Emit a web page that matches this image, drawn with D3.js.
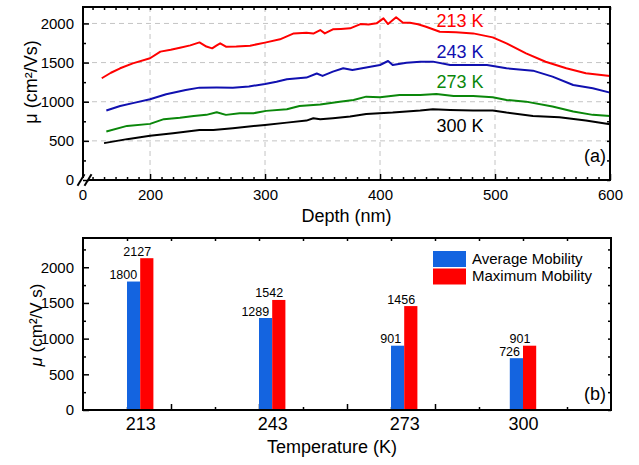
<!DOCTYPE html>
<html>
<head>
<meta charset="utf-8">
<script src="https://cdn.jsdelivr.net/npm/d3@7"></script>
<style>
  body { margin: 0; background: #fff; }
  svg text { font-family: "Liberation Sans", Arial, sans-serif; fill: #000; }
</style>
</head>
<body>
<svg id="chart" width="639" height="465"></svg>
<script>
// ---- panel (a): mobility vs depth ----
const depth213 = [158,166,174,185,200,209,218,226,235,243,249,254,258,261,266,275,287,300,313,325,336,342,348,352,359,366,374,383,390,397,403,407,414,420,426,433,440,452,466,481,498,510,527,544,562,579,600];
const mu213    = [1300,1370,1427,1490,1555,1640,1665,1690,1720,1758,1705,1682,1720,1746,1703,1705,1716,1755,1797,1873,1882,1870,1916,1873,1925,1930,1937,1992,1985,2001,2065,1992,2078,2009,2009,1990,1958,1894,1886,1873,1822,1746,1618,1511,1427,1363,1329];
const depth243 = [162,174,186,200,214,231,243,258,272,286,300,310,319,336,345,350,359,368,376,388,400,407,411,423,435,446,461,475,493,510,533,550,568,585,600];
const mu243    = [887,946,985,1032,1096,1150,1180,1182,1180,1195,1227,1255,1287,1308,1360,1330,1384,1427,1405,1437,1469,1520,1469,1499,1512,1512,1469,1469,1469,1427,1397,1321,1214,1172,1116];
const depth273 = [162,180,200,212,226,238,249,258,266,278,290,301,319,330,348,365,377,388,400,417,435,449,464,481,498,510,527,550,568,585,600];
const mu273    = [619,691,717,777,794,819,832,866,832,853,853,883,904,946,965,1001,1023,1065,1057,1087,1087,1099,1074,1074,1057,1023,1001,938,874,832,819];
const depth300 = [160,180,200,220,243,255,272,300,319,336,342,348,359,374,388,411,435,446,461,481,498,510,533,556,579,600];
const mu300    = [471,522,564,598,640,640,662,704,733,759,789,776,789,810,844,861,887,904,895,887,887,861,819,802,759,713];

const seriesA = [
  {label: "213 K", color: "#ff0000", depth: depth213, mu: mu213, ly: 27},
  {label: "243 K", color: "#1010b0", depth: depth243, mu: mu243, ly: 58},
  {label: "273 K", color: "#0a870a", depth: depth273, mu: mu273, ly: 88},
  {label: "300 K", color: "#000000", depth: depth300, mu: mu300, ly: 131.5}
];

// ---- panel (b): average / maximum mobility ----
const temps   = [213, 243, 273, 300];
const avgMob  = [1800, 1289, 901, 726];
const maxMob  = [2127, 1542, 1456, 901];

const svg = d3.select("#chart");
const fmt = d3.format("d");

// helpers
const styleTicks = g => {
  g.select(".domain").remove();
  g.selectAll("line").attr("stroke", "#000").attr("stroke-width", 1.5);
};
const range = (a, b, s) => d3.range(a, b + 0.001, s);

// ================= panel (a) =================
const A = {l: 83, r: 610, t: 7, b: 180};
const xA = d3.scaleLinear().domain([141.7, 600]).range([A.l, A.r]);
const yA = d3.scaleLinear().domain([0, 2210]).range([A.b, A.t]);

const gA = svg.append("g");

gA.selectAll(".gx").data([200, 300, 400, 500]).join("line")
  .attr("x1", d => xA(d)).attr("x2", d => xA(d))
  .attr("y1", A.t).attr("y2", A.b)
  .attr("stroke", "#c4c4c4").attr("stroke-dasharray", "5,4");
gA.selectAll(".gy").data([500, 1000, 1500, 2000]).join("line")
  .attr("x1", A.l).attr("x2", A.r)
  .attr("y1", d => yA(d)).attr("y2", d => yA(d))
  .attr("stroke", "#c4c4c4").attr("stroke-dasharray", "5,4");

const lineA = d3.line().x(d => xA(d[0])).y(d => yA(d[1]));
seriesA.forEach(s => {
  gA.append("path")
    .attr("d", lineA(d3.zip(s.depth, s.mu)))
    .attr("fill", "none").attr("stroke", s.color)
    .attr("stroke-width", 2).attr("stroke-linejoin", "round");
  gA.append("text")
    .attr("x", 460).attr("y", s.ly)
    .attr("text-anchor", "middle").style("font-size", "18px")
    .style("fill", s.color).text(s.label);
});

const majA = [200, 300, 400, 500, 600];
const minA = range(150, 600, 10).filter(v => v % 100 !== 0);

gA.append("g").attr("transform", `translate(0,${A.b})`)
  .call(d3.axisBottom(xA).tickValues(majA).tickFormat(fmt).tickSizeInner(-6).tickSizeOuter(0).tickPadding(9))
  .call(styleTicks)
  .selectAll("text").style("font-size", "15px");
gA.append("g").attr("transform", `translate(0,${A.b})`)
  .call(d3.axisBottom(xA).tickValues(minA).tickSizeInner(-3).tickSizeOuter(0).tickFormat(""))
  .call(styleTicks);
gA.append("g").attr("transform", `translate(0,${A.t})`)
  .call(d3.axisTop(xA).tickValues(majA.concat(minA)).tickSizeInner(-3).tickSizeOuter(0).tickFormat(""))
  .call(styleTicks);
gA.append("text").attr("x", A.l).attr("y", 200)
  .attr("text-anchor", "middle").style("font-size", "15px").text("0");

gA.append("g").attr("transform", `translate(${A.l},0)`)
  .call(d3.axisLeft(yA).tickValues(range(0, 2000, 500)).tickFormat(fmt).tickSizeInner(-6).tickSizeOuter(0).tickPadding(9))
  .call(styleTicks)
  .selectAll("text").style("font-size", "15px");
gA.append("g").attr("transform", `translate(${A.l},0)`)
  .call(d3.axisLeft(yA).tickValues([250, 750, 1250, 1750]).tickSizeInner(-3).tickSizeOuter(0).tickFormat(""))
  .call(styleTicks);
gA.append("g").attr("transform", `translate(${A.r},0)`)
  .call(d3.axisRight(yA).tickValues(range(0, 2000, 250)).tickSizeInner(-3).tickSizeOuter(0).tickFormat(""))
  .call(styleTicks);

// frame with axis break at the lower left
const frameA = [
  [A.l, A.t, A.r, A.t], [A.r, A.t, A.r, A.b],
  [A.l, A.t, A.l, A.b - 3], [A.l + 7, A.b, A.r, A.b],
  [A.l - 5, A.b + 5, A.l + 1, A.b - 5], [A.l + 2, A.b + 5, A.l + 8, A.b - 5]
];
gA.selectAll(".frame").data(frameA).join("line")
  .attr("x1", d => d[0]).attr("y1", d => d[1]).attr("x2", d => d[2]).attr("y2", d => d[3])
  .attr("stroke", "#000").attr("stroke-width", 2).attr("stroke-linecap", "square");

gA.append("text").attr("x", 606).attr("y", 162)
  .attr("text-anchor", "end").style("font-size", "18px").text("(a)");
gA.append("text").attr("x", (A.l + A.r) / 2).attr("y", 222)
  .attr("text-anchor", "middle").style("font-size", "18px").text("Depth (nm)");

gA.append("text").attr("transform", "translate(36.5,82) rotate(-90)")
  .attr("text-anchor", "middle").style("font-size", "18px")
  .text("\u03bc (cm\u00b2/Vs)");

// ================= panel (b) =================
const B = {l: 83, r: 611, t: 238, b: 410};
const xB = d3.scaleLinear().domain([200, 320]).range([B.l, B.r]);
const yB = d3.scaleLinear().domain([0, 2410]).range([B.b, B.t]);
const gB = svg.append("g");
const bw = xB(203) - xB(200);

gB.append("g").attr("transform", `translate(0,${B.b})`)
  .call(d3.axisBottom(xB).tickValues([220, 240, 260, 280, 300]).tickSizeInner(-6).tickSizeOuter(0).tickFormat(""))
  .call(styleTicks);
gB.append("g").attr("transform", `translate(0,${B.b})`)
  .call(d3.axisBottom(xB).tickValues([210, 230, 250, 270, 290, 310]).tickSizeInner(-3).tickSizeOuter(0).tickFormat(""))
  .call(styleTicks);
gB.append("g").attr("transform", `translate(0,${B.b})`)
  .call(d3.axisBottom(xB).tickValues(temps).tickFormat(fmt).tickSize(0).tickPadding(7))
  .call(styleTicks)
  .selectAll("text").style("font-size", "18px");
gB.append("g").attr("transform", `translate(0,${B.t})`)
  .call(d3.axisTop(xB).tickValues(range(210, 310, 10)).tickSizeInner(-3).tickSizeOuter(0).tickFormat(""))
  .call(styleTicks);

gB.append("g").attr("transform", `translate(${B.l},0)`)
  .call(d3.axisLeft(yB).tickValues(range(0, 2000, 500)).tickFormat(fmt).tickSizeInner(-6).tickSizeOuter(0).tickPadding(9))
  .call(styleTicks)
  .selectAll("text").style("font-size", "15px");
gB.append("g").attr("transform", `translate(${B.l},0)`)
  .call(d3.axisLeft(yB).tickValues([250, 750, 1250, 1750, 2250]).tickSizeInner(-3).tickSizeOuter(0).tickFormat(""))
  .call(styleTicks);
gB.append("g").attr("transform", `translate(${B.r},0)`)
  .call(d3.axisRight(yB).tickValues(range(0, 2250, 250)).tickSizeInner(-3).tickSizeOuter(0).tickFormat(""))
  .call(styleTicks);

const barData = temps.map((t, i) => ({t, avg: avgMob[i], max: maxMob[i]}));

gB.selectAll(".bavg").data(barData).join("rect")
  .attr("x", d => xB(d.t) - bw).attr("width", bw)
  .attr("y", d => yB(d.avg)).attr("height", d => B.b - yB(d.avg))
  .attr("fill", "#1464e0");
gB.selectAll(".bmax").data(barData).join("rect")
  .attr("x", d => xB(d.t)).attr("width", bw)
  .attr("y", d => yB(d.max)).attr("height", d => B.b - yB(d.max))
  .attr("fill", "#ff0000");

gB.selectAll(".lavg").data(barData).join("text")
  .attr("x", d => xB(d.t) - 3).attr("y", d => yB(d.avg) - 2.5)
  .attr("text-anchor", "end").style("font-size", "12.5px").text(d => d.avg);
gB.selectAll(".lmax").data(barData).join("text")
  .attr("x", d => xB(d.t) - 3).attr("y", d => yB(d.max) - 2.5)
  .attr("text-anchor", "middle").style("font-size", "12.5px").text(d => d.max);

gB.append("rect").attr("x", B.l).attr("y", B.t)
  .attr("width", B.r - B.l).attr("height", B.b - B.t)
  .attr("fill", "none").attr("stroke", "#000").attr("stroke-width", 2);

// legend
const legend = [
  {label: "Average Mobility", color: "#1464e0"},
  {label: "Maximum Mobility", color: "#ff0000"}
];
const lg = gB.selectAll(".leg").data(legend).join("g")
  .attr("transform", (d, i) => `translate(433,${251 + i * 17.5})`);
lg.append("rect").attr("width", 33).attr("height", 16).attr("fill", d => d.color);
lg.append("text").attr("x", 39).attr("y", 12.5).style("font-size", "15px").text(d => d.label);

gB.append("text").attr("x", 606).attr("y", 400)
  .attr("text-anchor", "end").style("font-size", "18px").text("(b)");
gB.append("text").attr("x", 332).attr("y", 453)
  .attr("text-anchor", "middle").style("font-size", "18px").text("Temperature (K)");

const ttlB = gB.append("text").attr("transform", "translate(41.5,325) rotate(-90)")
  .attr("text-anchor", "middle").style("font-size", "17px");
ttlB.append("tspan").style("font-style", "italic").text("\u03bc");
ttlB.append("tspan").text(" (cm\u00b2/V s)");
</script>
</body>
</html>
